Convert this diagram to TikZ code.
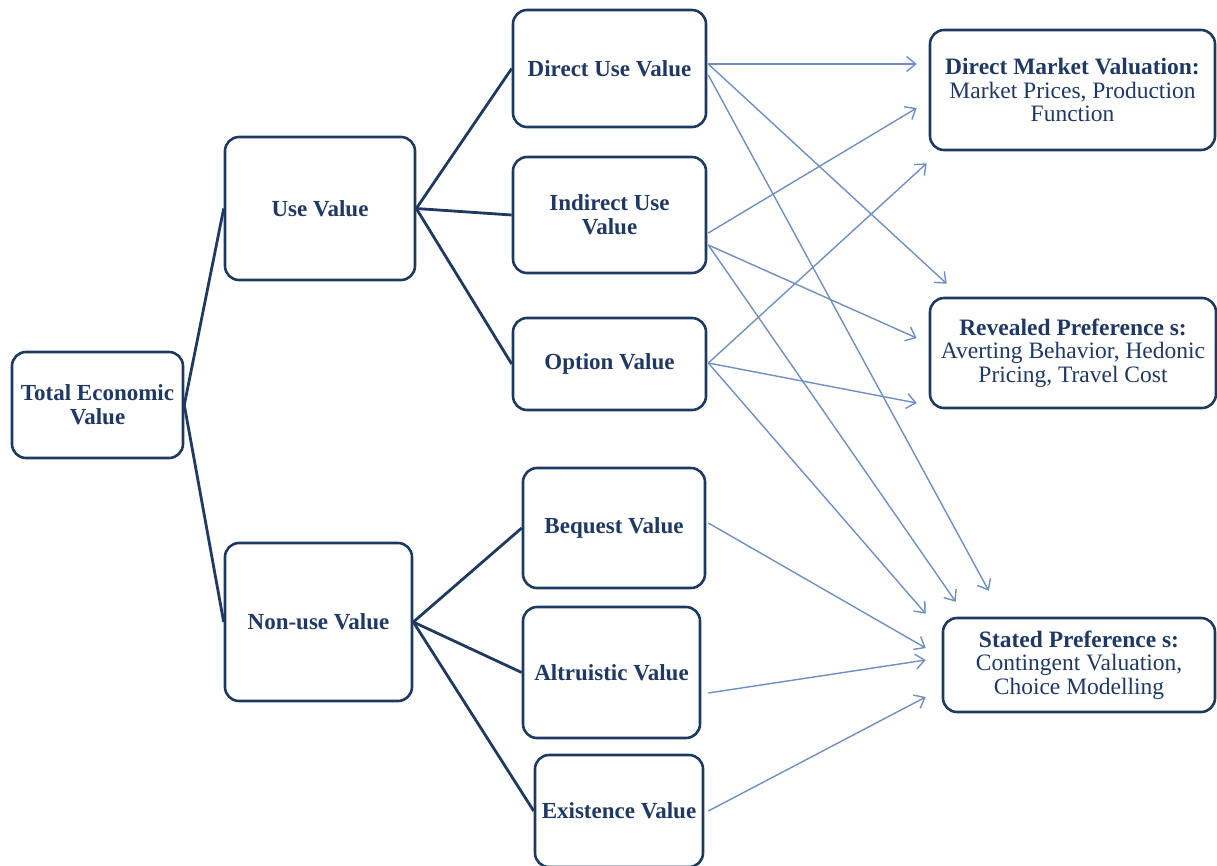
\documentclass[tikz,border=0pt]{standalone}
\usepackage{fontspec}
\setmainfont{Liberation Serif}
\usetikzlibrary{arrows.meta}
\definecolor{navy}{HTML}{1F3A60}
\definecolor{txt}{HTML}{1F3864}
\definecolor{arrc}{HTML}{6F8FC2}
\begin{document}
\begin{tikzpicture}[x=1pt,y=-1pt,
  box/.style={draw=navy,line width=2.6pt,rounded corners=14pt,fill=white,
    inner sep=0pt,align=center,text=txt,
    font=\fontsize{23}{24}\selectfont\bfseries},
  wbox/.style={box,font=\fontsize{23.5}{23.5}\selectfont},
  link/.style={draw=navy,line width=2.8pt},
  arr/.style={draw=arrc,line width=1.4pt,-{Straight Barb[length=9pt,width=15pt]}}]
\useasboundingbox (0,0) rectangle (1217,865);
% left and middle boxes
\node[box,minimum width=171pt,minimum height=106pt] (tev) at (97.5,405) {Total Economic\\Value};
\node[box,minimum width=190pt,minimum height=143pt] (use) at (320,208.5) {Use Value};
\node[box,minimum width=187pt,minimum height=158pt] (non) at (318.5,622) {Non-use Value};
\node[box,minimum width=193pt,minimum height=117pt] (dum) at (609.5,68.5) {Direct Use Value};
\node[box,minimum width=193pt,minimum height=116pt] (ind) at (609.5,215) {Indirect Use\\Value};
\node[box,minimum width=193pt,minimum height=92pt] (opt) at (609.5,364) {Option Value};
\node[box,minimum width=182pt,minimum height=120pt] (beq) at (614,528) {Bequest Value};
\node[box,minimum width=177pt,minimum height=131pt] (alt) at (611.5,672.5) {Altruistic Value};
\node[box,minimum width=168pt,minimum height=112pt] (exi) at (619,811) {Existence Value};
% right boxes
\node[wbox,minimum width=285pt,minimum height=120pt] (dmv) at (1072.5,90)
  {\textbf{Direct Market Valuation:}\\Market Prices, Production\\Function};
\node[wbox,minimum width=286pt,minimum height=110pt] (rev) at (1073,353)
  {\textbf{Revealed Preference s:}\\Averting Behavior, Hedonic\\Pricing, Travel Cost};
\node[wbox,minimum width=272pt,minimum height=94pt] (sta) at (1079,665)
  {\textbf{Stated Preference s:}\\Contingent Valuation,\\Choice Modelling};
% dark tree links
\draw[link] (tev.east) -- (use.west);
\draw[link] (tev.east) -- (non.west);
\draw[link] (use.east) -- (dum.west);
\draw[link] (use.east) -- (ind.west);
\draw[link] (use.east) -- (opt.west);
\draw[link] (non.east) -- (beq.west);
\draw[link] (non.east) -- (alt.west);
\draw[link] (non.east) -- (exi.west);
% arrow tips near the method boxes
\coordinate (d1) at ([shift={(-12,-26)}]dmv.west);
\coordinate (d2) at ([shift={(-12,18)}]dmv.west);
\coordinate (d3) at ([shift={(-2,12)}]dmv.south west);
\coordinate (r1) at ([shift={(18,-13)}]rev.north west);
\coordinate (r2) at ([shift={(-12,-15)}]rev.west);
\coordinate (r3) at ([shift={(-12,50)}]rev.west);
\coordinate (s1) at ([shift={(47,-26)}]sta.north west);
\coordinate (s2) at ([shift={(14,-15)}]sta.north west);
\coordinate (s3) at ([shift={(-16,-3)}]sta.north west);
\coordinate (s4) at ([shift={(-16,-17)}]sta.west);
\coordinate (s5) at ([shift={(-16,-5)}]sta.west);
\coordinate (s6) at ([shift={(-16,32)}]sta.west);
% light arrows
\draw[arr] ([shift={(1,-4.5)}]dum.east) -- (d1);
\draw[arr] ([shift={(1,-4.5)}]dum.east) -- (r1);
\draw[arr] ([shift={(1,6.5)}]dum.east) -- (s1);
\draw[arr] ([shift={(1,18)}]ind.east) -- (d2);
\draw[arr] ([shift={(1,30)}]ind.east) -- (r2);
\draw[arr] ([shift={(1,30)}]ind.east) -- (s2);
\draw[arr] ([shift={(1,-1)}]opt.east) -- (d3);
\draw[arr] ([shift={(1,-1)}]opt.east) -- (r3);
\draw[arr] ([shift={(1,-1)}]opt.east) -- (s3);
\draw[arr] ([shift={(2,-5)}]beq.east) -- (s4);
\draw[arr] ([shift={(7,20.5)}]alt.east) -- (s5);
\draw[arr] ([shift={(4,0)}]exi.east) -- (s6);
\end{tikzpicture}
\end{document}
